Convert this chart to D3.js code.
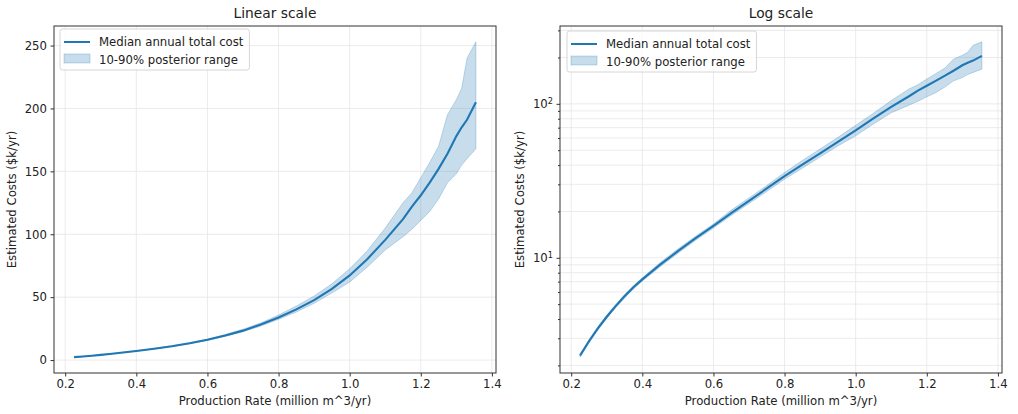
<!DOCTYPE html>
<html>
<head>
<meta charset="utf-8">
<script src="https://cdn.jsdelivr.net/npm/d3@7"></script>
<style>
    body { margin: 0; background: #fff; }
    svg text { font-family: "DejaVu Sans", sans-serif; fill: #222; }
    .tick text { font-size: 11.7px; }
    .grid line { stroke: #e6e6e6; stroke-width: 0.8; }
    .axis path, .axis line { stroke: #333; }
</style>
</head>
<body>
<div id="chart"></div>
<script>

// production rate (million m^3/yr)
const rates = [0.225, 0.25, 0.275, 0.30, 0.325, 0.35, 0.375, 0.40, 0.45, 0.50, 0.55, 0.60, 0.65, 0.70, 0.75,
    0.80, 0.85, 0.90, 0.95, 1.00, 1.05, 1.10, 1.15, 1.175, 1.20, 1.225, 1.25, 1.275, 1.30, 1.315, 1.33, 1.355];
// median annual total cost ($k/yr)
const medianCost = [2.32, 2.87, 3.48, 4.14, 4.85, 5.62, 6.43, 7.24, 9.02, 11.04, 13.4, 16.1, 19.5, 23.4, 28.2,
    33.9, 40.3, 47.7, 56.6, 67.3, 80.4, 95.5, 112, 122, 131, 141, 152, 164, 178, 185, 191, 205];
// 10% and 90% posterior bounds
const lowCost = [2.26, 2.80, 3.39, 4.04, 4.73, 5.48, 6.27, 7.06, 8.75, 10.7, 13.0, 15.6, 18.8, 22.5, 27.0,
    32.4, 38.2, 45.1, 53.3, 62, 74, 87.5, 98, 104, 111, 118, 128, 141, 148, 155, 160, 168];
const highCost = [2.38, 2.94, 3.57, 4.24, 4.97, 5.76, 6.59, 7.42, 9.29, 11.4, 13.8, 16.6, 20.4, 24.5, 29.5,
    35.8, 42.9, 50.9, 60.6, 72.5, 87, 105, 125, 133, 145, 157, 170, 195, 207, 216, 240, 253];

const rateTicks = [0.2, 0.4, 0.6, 0.8, 1.0, 1.2, 1.4];
const linearTicks = [0, 50, 100, 150, 200, 250];
const legendLabels = ["Median annual total cost", "10-90% posterior range"];

const data = rates.map((r, i) => ({rate: r, med: medianCost[i], lo: lowCost[i], hi: highCost[i]}));

const color = "#1f77b4";

const svg = d3.select("#chart").append("svg")
    .attr("width", 1018)
    .attr("height", 414);


class CostPanel {

    constructor(svg, left, title, isLog) {
        this.svg = svg;
        this.left = left;
        this.title = title;
        this.isLog = isLog;
        this.initVis();
    }

    initVis() {
        let vis = this;

        vis.width = 442;
        vis.height = 347;

        vis.g = vis.svg.append("g")
            .attr("transform", `translate(${vis.left}, 26)`);

        // x scale with matplotlib style 5% margins
        let xr = d3.extent(rates);
        let xpad = (xr[1] - xr[0]) * 0.05;
        vis.x = d3.scaleLinear()
            .domain([xr[0] - xpad, xr[1] + xpad])
            .range([0, vis.width]);

        let ylo = d3.min(lowCost), yhi = d3.max(highCost);
        if (vis.isLog) {
            let l0 = Math.log10(ylo), l1 = Math.log10(yhi);
            let p = (l1 - l0) * 0.05;
            vis.y = d3.scaleLog()
                .domain([Math.pow(10, l0 - p), Math.pow(10, l1 + p)])
                .range([vis.height, 0]);
            vis.yTicks = vis.y.ticks();
        } else {
            let p = (yhi - ylo) * 0.05;
            vis.y = d3.scaleLinear()
                .domain([ylo - p, yhi + p])
                .range([vis.height, 0]);
            vis.yTicks = linearTicks;
        }

        // grid
        vis.g.append("g").attr("class", "grid")
            .selectAll("line").data(rateTicks).enter().append("line")
            .attr("x1", d => vis.x(d)).attr("x2", d => vis.x(d))
            .attr("y1", 0).attr("y2", vis.height);
        vis.g.append("g").attr("class", "grid")
            .selectAll("line").data(vis.yTicks).enter().append("line")
            .attr("x1", 0).attr("x2", vis.width)
            .attr("y1", d => vis.y(d)).attr("y2", d => vis.y(d));

        // band
        vis.area = d3.area()
            .x(d => vis.x(d.rate))
            .y0(d => vis.y(d.lo))
            .y1(d => vis.y(d.hi));
        vis.g.append("path")
            .datum(data)
            .attr("d", vis.area)
            .attr("fill", color)
            .attr("fill-opacity", 0.25)
            .attr("stroke", color)
            .attr("stroke-opacity", 0.25)
            .attr("stroke-width", 1);

        // median line
        vis.line = d3.line()
            .x(d => vis.x(d.rate))
            .y(d => vis.y(d.med));
        vis.g.append("path")
            .datum(data)
            .attr("d", vis.line)
            .attr("fill", "none")
            .attr("stroke", color)
            .attr("stroke-width", 2.1);

        // axes
        let xAxis = d3.axisBottom(vis.x)
            .tickValues(rateTicks)
            .tickSize(3.5)
            .tickPadding(3.5)
            .tickFormat(d3.format(".1f"));
        vis.g.append("g")
            .attr("class", "axis x-axis")
            .attr("transform", `translate(0, ${vis.height})`)
            .call(xAxis);

        let isMajor = d => Math.abs(Math.log10(d) - Math.round(Math.log10(d))) < 1e-9;
        let yAxis = d3.axisLeft(vis.y)
            .tickValues(vis.yTicks)
            .tickSize(3.5)
            .tickPadding(3.5)
            .tickFormat(vis.isLog ? () => "" : d3.format("d"));
        let yg = vis.g.append("g")
            .attr("class", "axis y-axis")
            .call(yAxis);
        if (vis.isLog) {
            yg.selectAll(".tick line").attr("x2", d => isMajor(d) ? -3.5 : -2);
            let lab = yg.selectAll(".tick text").filter(d => isMajor(d));
            lab.append("tspan").text("10");
            lab.append("tspan")
                .attr("dy", "-0.45em")
                .attr("font-size", "8.2px")
                .text(d => Math.round(Math.log10(d)));
        }
        vis.g.selectAll(".axis .domain").remove();

        // frame
        vis.g.append("rect")
            .attr("width", vis.width).attr("height", vis.height)
            .attr("fill", "none").attr("stroke", "#333").attr("stroke-width", 1);

        // titles
        vis.g.append("text")
            .attr("x", vis.width / 2).attr("y", -7.7)
            .attr("text-anchor", "middle")
            .attr("font-size", "13.8px")
            .text(vis.title);
        vis.g.append("text")
            .attr("x", vis.width / 2).attr("y", vis.height + 32)
            .attr("text-anchor", "middle")
            .attr("font-size", "11.7px")
            .text("Production Rate (million m^3/yr)");
        vis.g.append("text")
            .attr("transform", `translate(${vis.isLog ? -36 : -38}, ${vis.height / 2}) rotate(-90)`)
            .attr("text-anchor", "middle")
            .attr("font-size", "11.7px")
            .text("Estimated Costs ($k/yr)");

        // legend
        let leg = vis.g.append("g").attr("transform", vis.isLog ? "translate(7, 5)" : "translate(6, 3)");
        let box = leg.append("rect")
            .attr("rx", 2.5)
            .attr("fill", "#fff").attr("fill-opacity", 0.8)
            .attr("stroke", "#d6d6d6");
        leg.append("line")
            .attr("x1", 4).attr("x2", 30).attr("y1", 13).attr("y2", 13)
            .attr("stroke", color).attr("stroke-width", 2);
        leg.append("rect")
            .attr("x", 4).attr("y", 25).attr("width", 26).attr("height", 9)
            .attr("fill", color).attr("fill-opacity", 0.25)
            .attr("stroke", color).attr("stroke-opacity", 0.25);
        let texts = leg.selectAll(".legtext").data(legendLabels).enter().append("text")
            .attr("class", "legtext")
            .attr("x", 39)
            .attr("y", (d, i) => 17 + i * 17.5)
            .attr("font-size", "11.7px")
            .text(d => d);
        let tw = d3.max(texts.nodes(), n => n.getComputedTextLength());
        box.attr("width", 39 + tw + 6).attr("height", 41);
    }
}

new CostPanel(svg, 54, "Linear scale", false);
new CostPanel(svg, 560, "Log scale", true);

</script>
</body>
</html>
